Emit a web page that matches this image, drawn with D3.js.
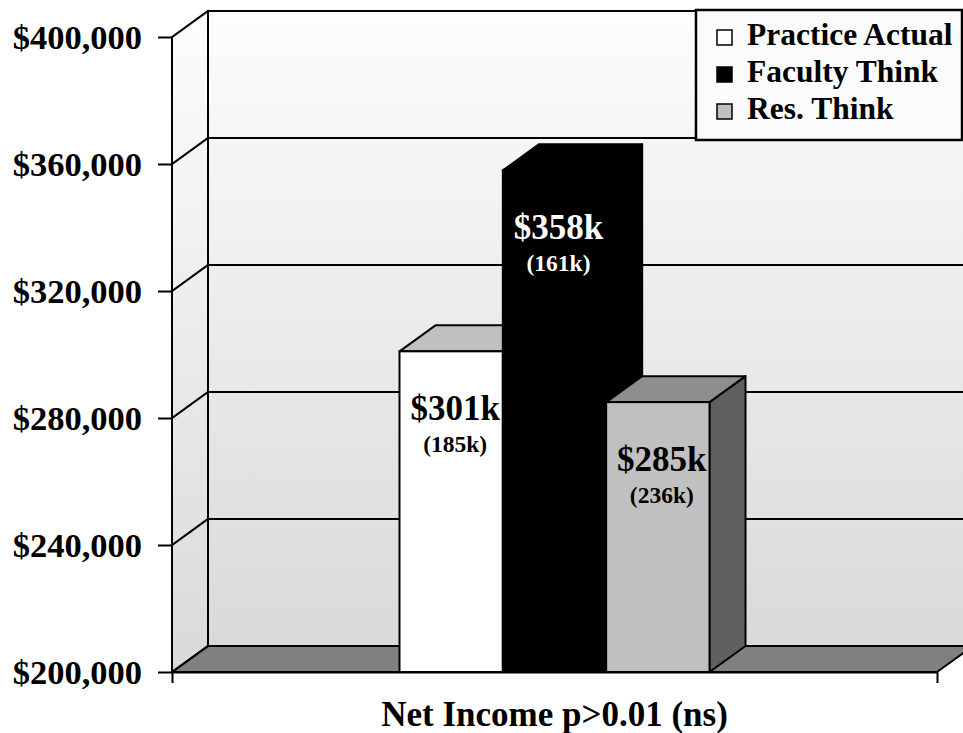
<!DOCTYPE html>
<html>
<head>
<meta charset="utf-8">
<script src="https://cdn.jsdelivr.net/npm/d3@7"></script>
<style>
  html, body { margin: 0; padding: 0; background: #ffffff; }
  svg { display: block; }
  text { font-family: "Liberation Serif", "Times New Roman", serif; font-weight: bold; }
</style>
</head>
<body>
<svg id="chart" width="963" height="733"></svg>
<script>
// ---- data ----
const categories = ["Net Income p>0.01 (ns)"];
const seriesNames = ["Practice Actual", "Faculty Think", "Res. Think"];
const values = [301000, 358000, 285000];
const valueLabels = ["$301k", "$358k", "$285k"];
const subLabels = ["(185k)", "(161k)", "(236k)"];
const yTicks = [200000, 240000, 280000, 320000, 360000, 400000];

// ---- styling ----
const frontFill = ["#ffffff", "#000000", "#c0c0c0"];
const topFill   = ["#c0c0c0", "#000000", "#8e8e8e"];
const sideFill  = ["#a0a0a0", "#000000", "#606060"];
const labelFill = ["#000000", "#ffffff", "#000000"];

const plotL = 172, plotR = 937, plotT = 37, plotB = 672;
const depth = { dx: 36, dy: -26 };   // 3-D offset of the back plane
const groupWidth = 310;              // width occupied by the three bars

const svg = d3.select("#chart");

const y = d3.scaleLinear().domain([200000, 400000]).range([plotB, plotT]);
const x0 = d3.scaleBand().domain(categories).range([plotL, plotR]);
const cx = x0(categories[0]) + x0.bandwidth() / 2;
const x1 = d3.scaleBand().domain(seriesNames)
  .range([cx - groupWidth / 2, cx + groupWidth / 2]).padding(0);

// ---- gradients ----
const defs = svg.append("defs");
const g1 = defs.append("linearGradient").attr("id", "wallGrad")
  .attr("x1", 0).attr("y1", 0).attr("x2", 0).attr("y2", 1);
g1.append("stop").attr("offset", "0%").attr("stop-color", "#fdfdfd");
g1.append("stop").attr("offset", "100%").attr("stop-color", "#d9d9d9");

const bx = plotL + depth.dx, by = plotB + depth.dy, byTop = plotT + depth.dy;
const farRight = plotR + depth.dx;
const pts = a => a.map(p => p.join(",")).join(" ");

// back wall
svg.append("polygon")
  .attr("points", pts([[bx, byTop], [farRight, byTop], [farRight, by], [bx, by]]))
  .attr("fill", "url(#wallGrad)");
// side wall
svg.append("polygon")
  .attr("points", pts([[plotL, plotT], [bx, byTop], [bx, by], [plotL, plotB]]))
  .attr("fill", "url(#wallGrad)");
// floor
svg.append("polygon")
  .attr("points", pts([[plotL, plotB], [plotR, plotB], [farRight, by], [bx, by]]))
  .attr("fill", "#808080").attr("stroke", "#000").attr("stroke-width", 2)
  .attr("stroke-linejoin", "round");

// gridlines on back and side walls
const grid = svg.append("g").attr("stroke", "#000").attr("stroke-width", 2)
  .attr("stroke-linecap", "square");
yTicks.forEach(t => {
  const yy = y(t);
  grid.append("line").attr("x1", bx).attr("x2", farRight)
    .attr("y1", yy + depth.dy).attr("y2", yy + depth.dy);
  grid.append("line").attr("x1", plotL).attr("y1", yy)
    .attr("x2", bx).attr("y2", yy + depth.dy);
});
grid.append("line").attr("x1", bx).attr("x2", bx).attr("y1", byTop).attr("y2", by);

// ---- bars ----
const bars = svg.append("g").selectAll("g.bar")
  .data(values.map((v, i) => ({ v, i, name: seriesNames[i] })))
  .join("g").attr("class", "bar");

bars.each(function (d) {
  const g = d3.select(this);
  const xa = x1(d.name), xb = xa + x1.bandwidth();
  const yt = y(d.v), yb = y(200000);
  // side face
  g.append("polygon")
    .attr("points", pts([[xb, yt], [xb + depth.dx, yt + depth.dy], [xb + depth.dx, yb + depth.dy], [xb, yb]]))
    .attr("fill", sideFill[d.i]).attr("stroke", "#000").attr("stroke-width", 2).attr("stroke-linejoin", "round");
  // top face
  g.append("polygon")
    .attr("points", pts([[xa, yt], [xb, yt], [xb + depth.dx, yt + depth.dy], [xa + depth.dx, yt + depth.dy]]))
    .attr("fill", topFill[d.i]).attr("stroke", "#000").attr("stroke-width", 2).attr("stroke-linejoin", "round");
  // front face
  g.append("rect")
    .attr("x", xa).attr("y", yt).attr("width", xb - xa).attr("height", yb - yt)
    .attr("fill", frontFill[d.i]).attr("stroke", "#000").attr("stroke-width", 2);
});

// value labels
bars.append("text")
  .attr("x", d => x1(d.name) + x1.bandwidth() / 2 + 4)
  .attr("y", d => y(d.v) + 69)
  .attr("text-anchor", "middle").attr("font-size", 35)
  .attr("fill", d => labelFill[d.i])
  .text(d => valueLabels[d.i]);
bars.append("text")
  .attr("x", d => x1(d.name) + x1.bandwidth() / 2 + 4)
  .attr("y", d => y(d.v) + 101)
  .attr("text-anchor", "middle").attr("font-size", 23.5)
  .attr("fill", d => labelFill[d.i])
  .text(d => subLabels[d.i]);

// ---- axes ----
const yAxis = svg.append("g").attr("transform", `translate(${plotL},0)`)
  .call(d3.axisLeft(y).tickValues(yTicks).tickFormat(d3.format("$,.0f"))
    .tickSize(14).tickPadding(16));
yAxis.select(".domain").attr("stroke-width", 2).attr("d", `M0,${plotT}V${plotB}`);
yAxis.selectAll(".tick line").attr("stroke-width", 2);
yAxis.selectAll("text").attr("font-size", 34.5).attr("font-family", "Liberation Serif")
  .attr("font-weight", "bold").attr("fill", "#000");

const xAxis = svg.append("g").attr("transform", `translate(0,${plotB})`)
  .call(d3.axisBottom(x0).tickSizeInner(0).tickSizeOuter(11).tickPadding(29));
xAxis.select(".domain").attr("stroke-width", 2);
xAxis.selectAll("text").attr("font-size", 35).attr("font-family", "Liberation Serif")
  .attr("font-weight", "bold").attr("fill", "#000");

// ---- legend ----
const legend = svg.append("g");
legend.append("rect").attr("x", 696).attr("y", 10).attr("width", 266).attr("height", 130)
  .attr("fill", "#fbfbfb").attr("stroke", "#000").attr("stroke-width", 2.5);
const items = legend.selectAll("g.item").data(seriesNames).join("g")
  .attr("class", "item")
  .attr("transform", (d, i) => `translate(717,${45 + i * 37})`);
items.append("rect").attr("x", 0).attr("y", -15).attr("width", 15).attr("height", 15)
  .attr("fill", (d, i) => frontFill[i]).attr("stroke", "#000").attr("stroke-width", 1.5);
items.append("text").attr("x", 30).attr("y", 0).attr("font-size", 31.5)
  .attr("fill", "#000").text(d => d);
</script>
</body>
</html>
